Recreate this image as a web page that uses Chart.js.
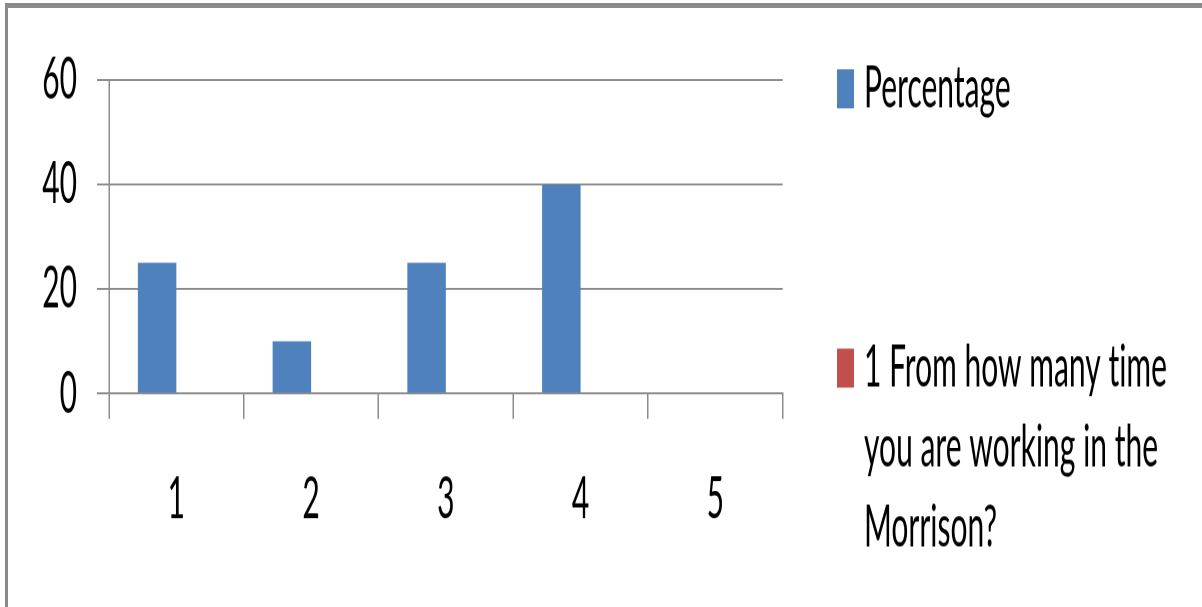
<!DOCTYPE html>
<html><head><meta charset="utf-8">
<script src="https://cdn.jsdelivr.net/npm/chart.js@4"></script>
<style>
html,body{margin:0;padding:0;background:#fff;overflow:hidden;width:1202px;height:607px;}
#wrap{position:absolute;left:0;top:0;width:1202px;height:311px;transform:scaleY(1.95177);transform-origin:0 0;}
#frame{position:absolute;left:5px;top:3px;width:1400px;height:800px;border-top:5px solid #8a8a8a;border-left:3px solid #8a8a8a;pointer-events:none;}
</style></head><body>
<div id="wrap"><canvas id="c" width="1202" height="311" style="width:1202px;height:311px"></canvas></div>
<div id="frame"></div>
<script>
// ---- data ----
const categories = ['1', '2', '3', '4', '5'];
const percentage = [25, 10, 25, 40, 0];
const questionSeries = [null, null, null, null, null];
const seriesNames = ['Percentage', '1 From how many time you are working in the Morrison?'];
const seriesColors = ['#4F81BD', '#C0504D'];
const yMin = 0, yMax = 60, yStep = 20;

const FONT = 'Lato';
const FSIZE = 30;
const GRID = '#8c8c8c';

function wrapText(ctx, text, maxW) {
  const words = text.split(' ');
  const lines = [];
  let cur = '';
  words.forEach(w => {
    const test = cur ? cur + ' ' + w : w;
    if (ctx.measureText(test).width > maxW && cur) { lines.push(cur); cur = w; }
    else cur = test;
  });
  if (cur) lines.push(cur);
  return lines;
}

const sideLegend = {
  id: 'sideLegend',
  afterDraw(chart) {
    const ctx = chart.ctx;
    ctx.save();
    ctx.font = FSIZE + 'px ' + FONT;
    if ('letterSpacing' in ctx) ctx.letterSpacing = '0.01px';
    ctx.textBaseline = 'alphabetic';
    ctx.textAlign = 'left';
    const boxX = 837, boxW = 17, boxH = 20, textX = 864, lineH = 41;
    const itemTops = [35.5, 178.6];
    chart.data.datasets.forEach((ds, i) => {
      const top = itemTops[i];
      ctx.fillStyle = ds.backgroundColor;
      ctx.fillRect(boxX, top, boxW, boxH);
      ctx.fillStyle = '#000';
      const lines = wrapText(ctx, ds.label, 1200 - textX);
      lines.forEach((ln, j) => ctx.fillText(ln, textX, top + boxH - 0.5 + j * lineH));
    });
    ctx.restore();
  }
};

new Chart(document.getElementById('c'), {
  type: 'bar',
  data: {
    labels: categories,
    datasets: [
      { label: seriesNames[0], data: percentage, backgroundColor: seriesColors[0], borderWidth: 0 },
      { label: seriesNames[1], data: questionSeries, backgroundColor: seriesColors[1], borderWidth: 0 }
    ]
  },
  options: {
    responsive: false,
    animation: false,
    devicePixelRatio: 2,
    categoryPercentage: 0.5714,
    barPercentage: 1,
    layout: { padding: { top: 41, right: 419.3, left: 0, bottom: 0 } },
    plugins: { legend: { display: false }, tooltip: { enabled: false } },
    scales: {
      x: {
        grid: { display: true, offset: true, drawOnChartArea: false, drawTicks: true, tickLength: 13, color: GRID, lineWidth: 1.5 },
        border: { display: true, color: GRID, width: 1 },
        ticks: { font: { family: FONT, size: FSIZE }, color: '#000', padding: 23 },
        afterFit(s) { s.height = 109.4; }
      },
      y: {
        min: yMin, max: yMax,
        grid: { color: GRID, lineWidth: 1, tickLength: 12, drawTicks: true },
        border: { display: true, color: GRID, width: 1.5 },
        ticks: { stepSize: yStep, font: { family: FONT, size: FSIZE }, color: '#000', padding: 20 },
        afterFit(s) { s.width = 109; }
      }
    }
  },
  plugins: [sideLegend]
});
</script>
</body></html>
